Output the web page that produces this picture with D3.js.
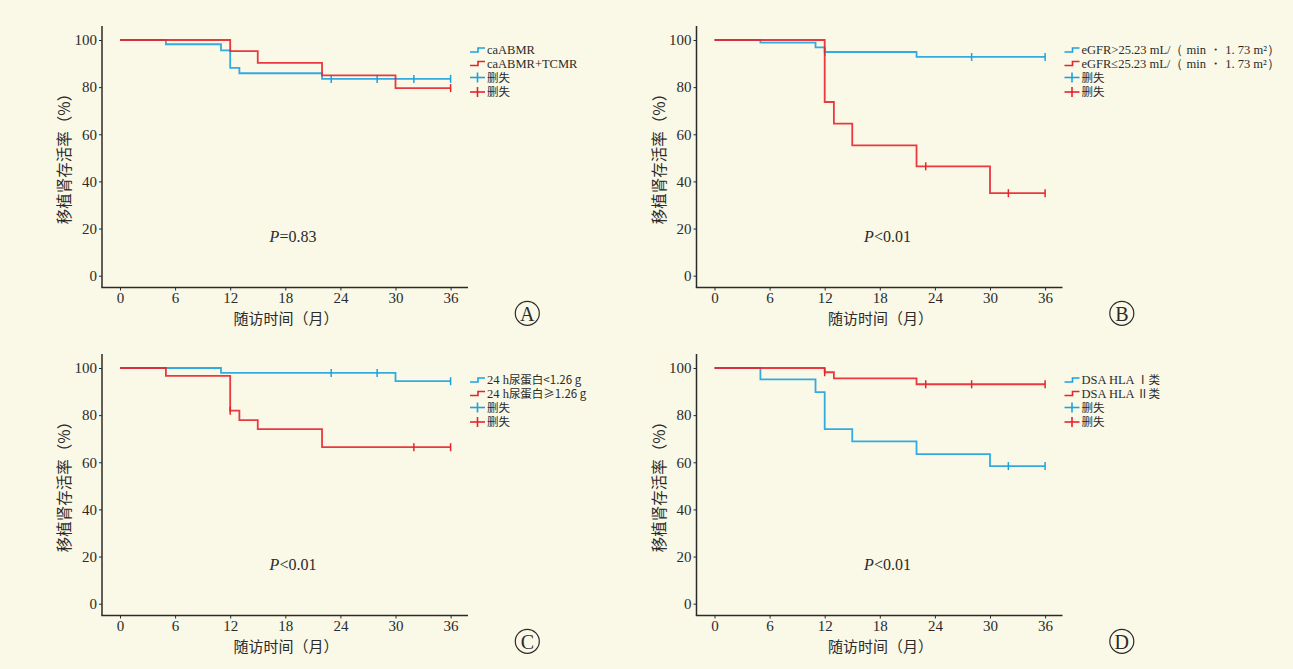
<!DOCTYPE html>
<html>
<head>
<meta charset="utf-8">
<script src="https://cdn.jsdelivr.net/npm/d3@7"></script>
<style>
body { margin: 0; background: #faf8e6; }
svg { display: block; }
.serif { font-family: "Liberation Serif", "DejaVu Serif", serif; }
.cjk { font-family: "Noto Sans CJK SC", sans-serif; }
</style>
</head>
<body>
<div id="chart"></div>
<script>
// survival curves: [month, survival %]
// steps change at the given month, censor marks as separate lists
var panelLetters = ["A", "B", "C", "D"];
var pTexts = ["=0.83", "<0.01", "<0.01", "<0.01"];
var xTicks = [0, 6, 12, 18, 24, 30, 36];
var yTicks = [0, 20, 40, 60, 80, 100];

// legend labels: [latin part, cjk part]
var legendA = [["caABMR", ""], ["caABMR+TCMR", ""]];
var legendB = [["eGFR>25.23 mL/（ min ・ 1. 73 m²）", ""], ["eGFR≤25.23 mL/（ min ・ 1. 73 m²）", ""]];
var legendC = [["24 h", "尿蛋白<1.26 g"], ["24 h", "尿蛋白≥1.26 g"]];
var legendD = [["DSA HLA ", "Ⅰ类"], ["DSA HLA ", "Ⅱ类"]];

var blueA = [[0, 100], [5, 98.2], [11, 95.6], [12, 88.2], [13, 85.9], [22, 83.5], [36, 83.5]];
var redA = [[0, 100], [12, 95.3], [15, 90.3], [22, 85.0], [30, 79.6], [36, 79.6]];
var blueCensA = [23, 28, 32, 36];
var redCensA = [36];

var blueB = [[0, 100], [5, 98.9], [11, 96.9], [12, 94.9], [22, 92.8], [36, 92.8]];
var redB = [[0, 100], [12, 73.7], [13, 64.5], [15, 55.3], [22, 46.4], [30, 35.0], [36, 35.0]];
var blueCensB = [12, 28, 36];
var redCensB = [23, 32, 36];

var blueC = [[0, 100], [11, 97.9], [30, 94.4], [36, 94.4]];
var redC = [[0, 100], [5, 96.7], [12, 81.9], [13, 77.9], [15, 74.1], [22, 66.4], [36, 66.4]];
var blueCensC = [23, 28, 36];
var redCensC = [12, 32, 36];

var blueD = [[0, 100], [5, 95.2], [11, 89.8], [12, 74.1], [15, 68.9], [22, 63.5], [30, 58.4], [36, 58.4]];
var redD = [[0, 100], [12, 98.2], [13, 95.6], [22, 93.1], [36, 93.1]];
var blueCensD = [32, 36];
var redCensD = [12, 23, 28, 36];

var panels = [
  {dx: 0, dy: 0, legend: legendA, blue: blueA, red: redA, bc: blueCensA, rc: redCensA},
  {dx: 594.5, dy: 0, legend: legendB, blue: blueB, red: redB, bc: blueCensB, rc: redCensB},
  {dx: 0, dy: 328, legend: legendC, blue: blueC, red: redC, bc: blueCensC, rc: redCensC},
  {dx: 594.5, dy: 328, legend: legendD, blue: blueD, red: redD, bc: blueCensD, rc: redCensD}
];

var BLUE = "#1ca3df", RED = "#e8232c", INK = "#2b2b2b";

var svg = d3.select("#chart").append("svg")
  .attr("width", 1293).attr("height", 669);
svg.append("rect").attr("width", 1293).attr("height", 669).attr("fill", "#faf8e6");

// value at a month on a step curve
function stepVal(curve, m) {
  var v = curve[0][1];
  curve.forEach(function(p) { if (p[0] <= m) v = p[1]; });
  return v;
}

panels.forEach(function(p, i) {
  var g = svg.append("g").attr("transform", "translate(" + p.dx + "," + p.dy + ")");
  var x = d3.scaleLinear().domain([0, 36]).range([120, 450.6]);
  var y = d3.scaleLinear().domain([0, 100]).range([275.7, 40]);

  // axes lines
  g.append("line").attr("x1", 102).attr("x2", 102).attr("y1", 26).attr("y2", 287.5)
    .attr("stroke", INK).attr("stroke-width", 1.5);
  g.append("line").attr("x1", 101.3).attr("x2", 468).attr("y1", 287.5).attr("y2", 287.5)
    .attr("stroke", INK).attr("stroke-width", 1.5);

  var xa = g.append("g").attr("transform", "translate(0,287.5)")
    .call(d3.axisBottom(x).tickValues(xTicks).tickSize(3).tickPadding(2));
  xa.select(".domain").remove();
  xa.selectAll("line").attr("stroke", INK);
  xa.selectAll("text").attr("class", "serif").attr("font-size", 15).attr("fill", INK);

  var ya = g.append("g").attr("transform", "translate(102,0)")
    .call(d3.axisLeft(y).tickValues(yTicks).tickSize(3).tickPadding(2));
  ya.select(".domain").remove();
  ya.selectAll("line").attr("stroke", INK);
  ya.selectAll("text").attr("class", "serif").attr("font-size", 15).attr("fill", INK);

  // axis titles
  g.append("text").attr("class", "cjk").attr("x", 286).attr("y", 323.5)
    .attr("text-anchor", "middle").attr("font-size", 15).attr("fill", INK)
    .text("随访时间（月）");
  g.append("text").attr("class", "cjk")
    .attr("transform", "translate(70,155) rotate(-90)")
    .attr("text-anchor", "middle").attr("font-size", 15.5).attr("fill", INK)
    .text("移植肾存活率（%）");

  // curves
  var line = d3.line().x(function(d) { return x(d[0]); }).y(function(d) { return y(d[1]); })
    .curve(d3.curveStepAfter);
  [[p.blue, BLUE, p.bc], [p.red, RED, p.rc]].forEach(function(s) {
    g.append("path").datum(s[0]).attr("d", line).attr("fill", "none")
      .attr("stroke", s[1]).attr("stroke-width", 1.8).attr("stroke-opacity", 0.9);
    g.selectAll(null).data(s[2]).enter().append("line")
      .attr("x1", function(m) { return x(m); }).attr("x2", function(m) { return x(m); })
      .attr("y1", function(m) { return y(stepVal(s[0], m)) - 4; })
      .attr("y2", function(m) { return y(stepVal(s[0], m)) + 4; })
      .attr("stroke", s[1]).attr("stroke-width", 1.5);
  });

  // P value
  var pt = g.append("text").attr("class", "serif").attr("x", 293).attr("y", 242)
    .attr("text-anchor", "middle").attr("font-size", 16).attr("fill", INK);
  pt.append("tspan").attr("font-style", "italic").text("P");
  pt.append("tspan").text(pTexts[i]);

  // legend
  var lx = 470, rows = [50, 63.5, 77.5, 92];
  if (p.dy > 0) rows = rows.map(function(r) { return r + 2; });
  [BLUE, RED].forEach(function(c, k) {
    var ry = rows[k];
    g.append("path").attr("d", "M" + lx + "," + (ry + 2) + "H" + (lx + 8) + "V" + (ry - 2) + "H" + (lx + 15))
      .attr("fill", "none").attr("stroke", c).attr("stroke-width", 1.6);
    var t = g.append("text").attr("class", "serif").attr("x", lx + 17).attr("y", ry + 4)
      .attr("font-size", 12.5).attr("fill", INK);
    t.append("tspan").text(p.legend[k][0]);
    if (p.legend[k][1]) t.append("tspan").attr("class", "cjk").attr("font-size", 11.5).text(p.legend[k][1]);
  });
  [BLUE, RED].forEach(function(c, k) {
    var ry = rows[k + 2];
    g.append("line").attr("x1", lx).attr("x2", lx + 15).attr("y1", ry).attr("y2", ry)
      .attr("stroke", c).attr("stroke-width", 1.6);
    g.append("line").attr("x1", lx + 7.5).attr("x2", lx + 7.5).attr("y1", ry - 5).attr("y2", ry + 5)
      .attr("stroke", c).attr("stroke-width", 1.6);
    g.append("text").attr("class", "cjk").attr("x", lx + 17).attr("y", ry + 4)
      .attr("font-size", 11.5).attr("fill", INK).text("删失");
  });

  // circled panel letter
  g.append("circle").attr("cx", 527.3).attr("cy", 313.3).attr("r", 12)
    .attr("fill", "none").attr("stroke", INK).attr("stroke-width", 1.2);
  g.append("text").attr("class", "serif").attr("x", 527.3).attr("y", 320.5)
    .attr("text-anchor", "middle").attr("font-size", 20).attr("fill", INK)
    .text(panelLetters[i]);
});
</script>
</body>
</html>
